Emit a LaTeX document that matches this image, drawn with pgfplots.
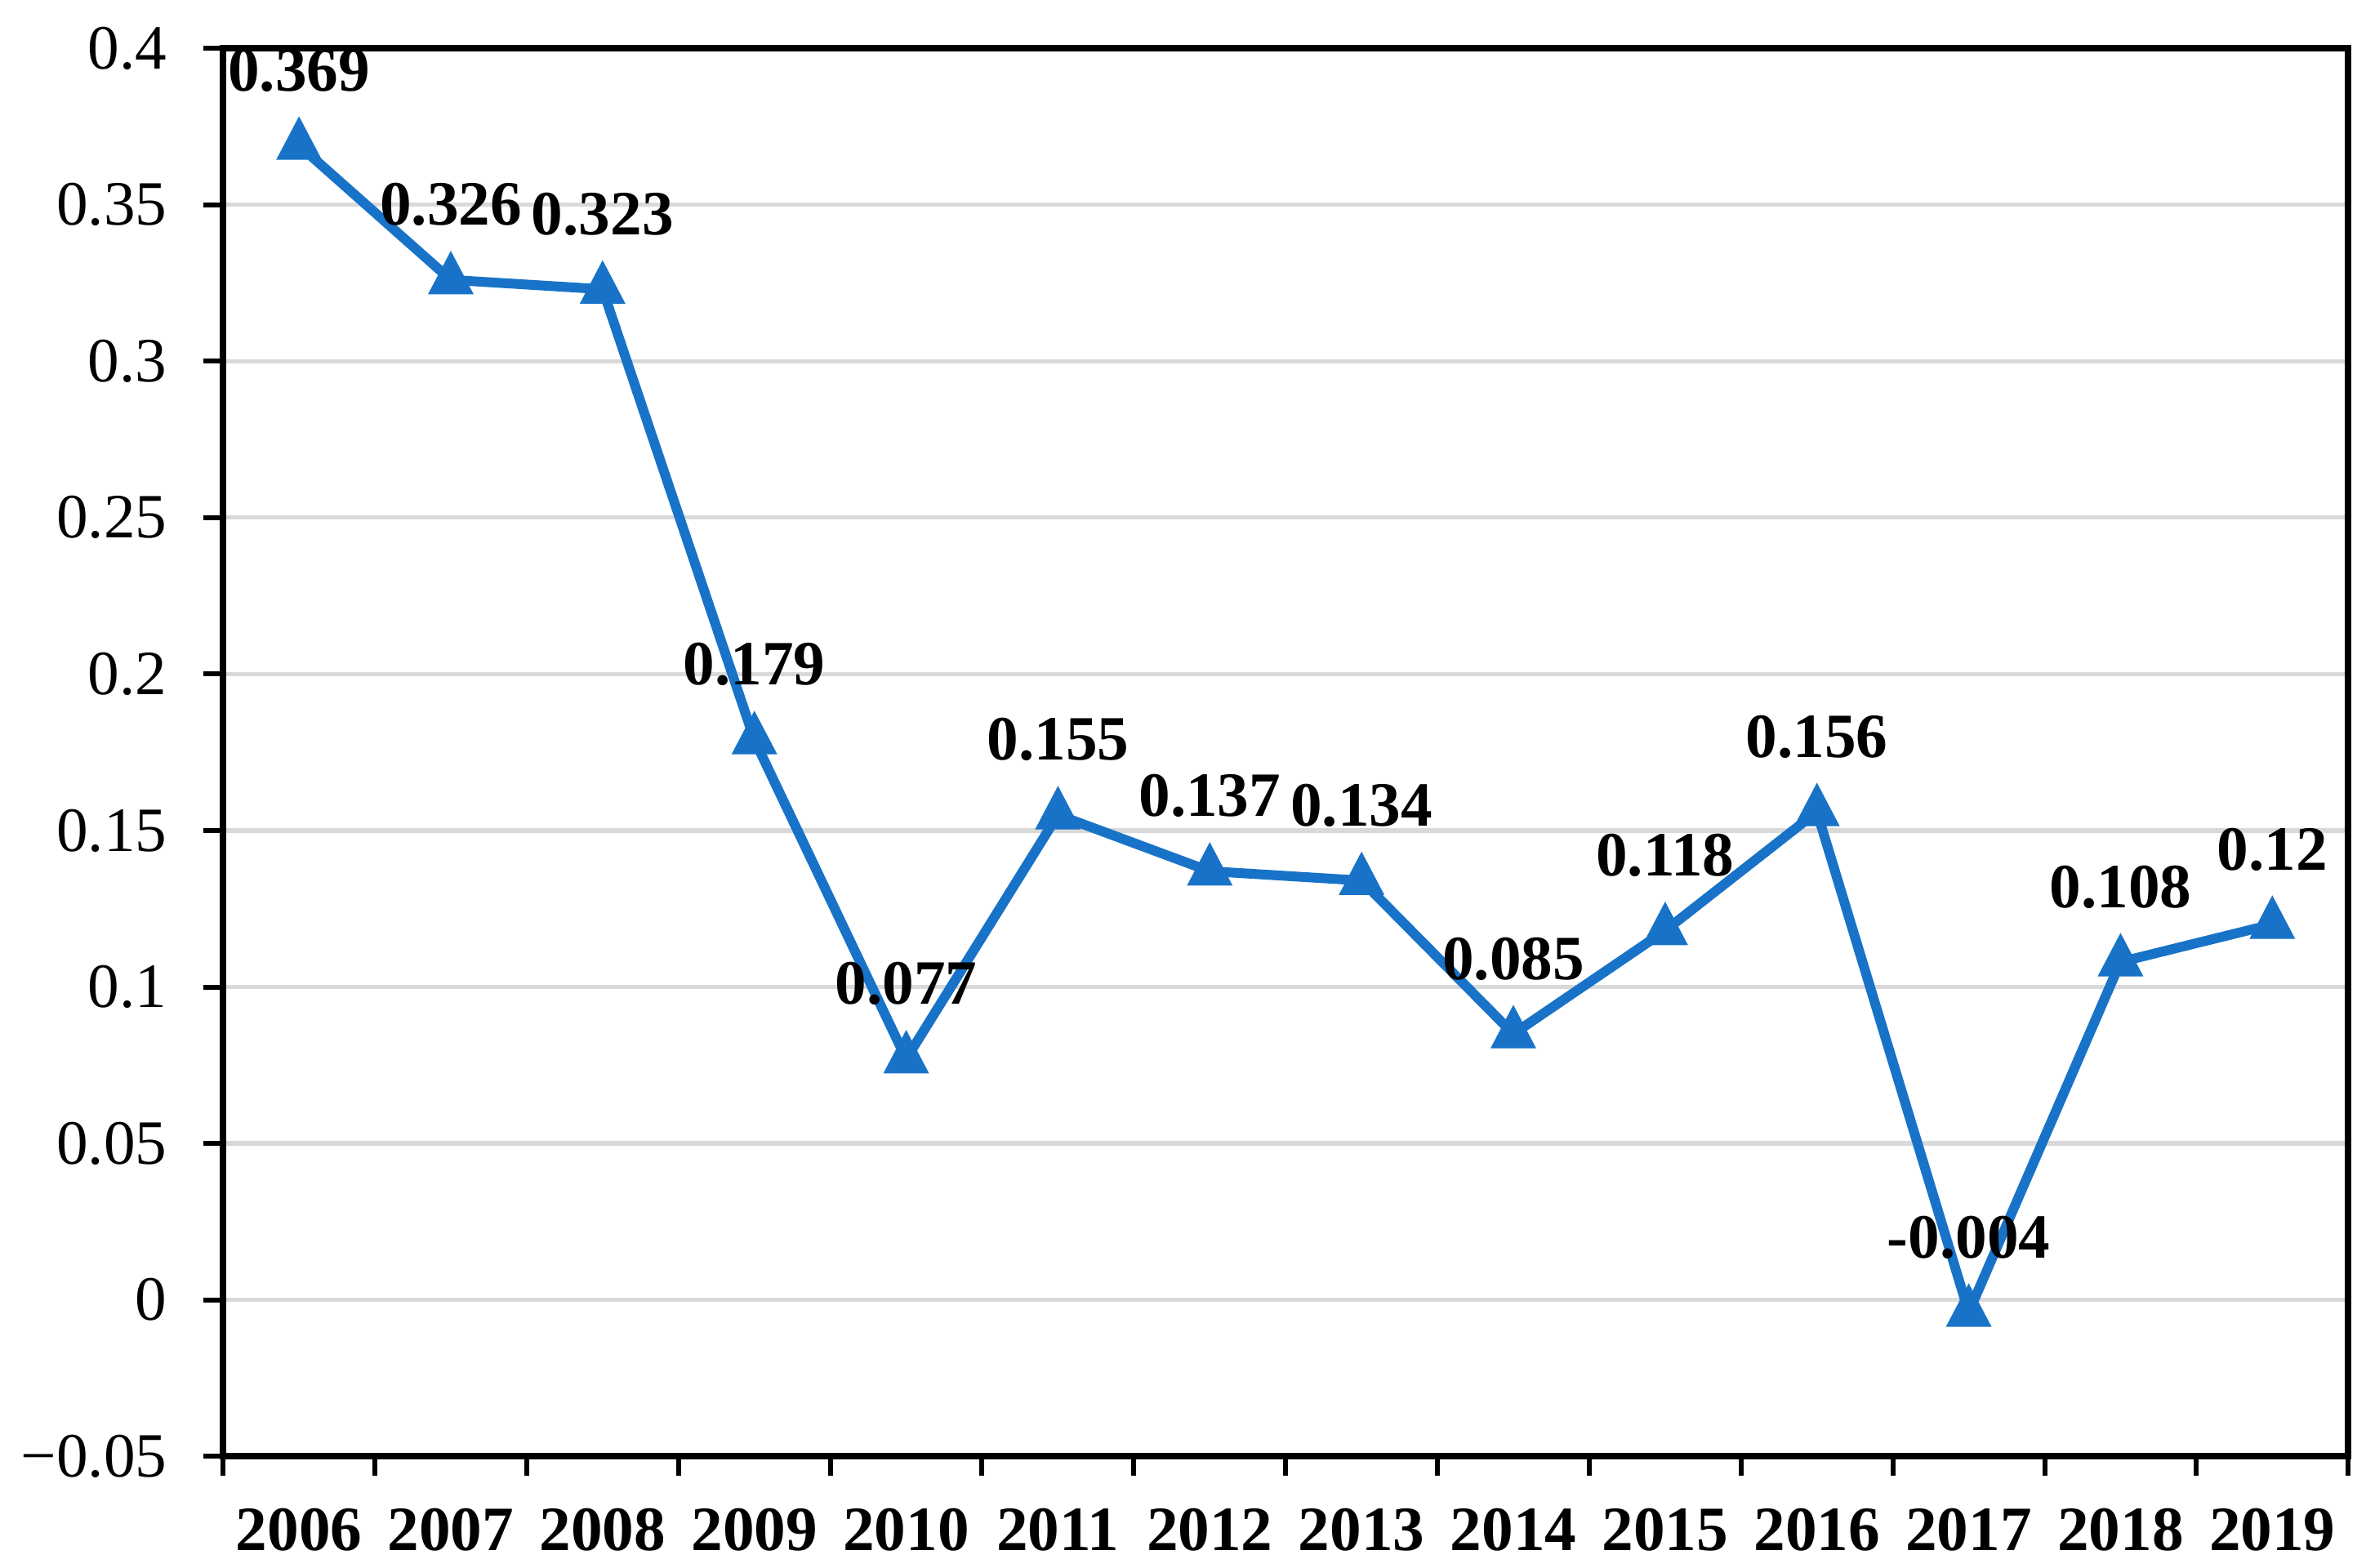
\documentclass[border=0pt]{standalone}
\usepackage{fontspec}
\setmainfont{Liberation Serif}
\usepackage{pgfplots}
\pgfplotsset{compat=1.18}
\definecolor{lineblue}{RGB}{24,115,200}
\definecolor{gridgray}{RGB}{217,217,217}

\pgfplotstableread{
x y lab
0 0.369 0.369
1 0.326 0.326
2 0.323 0.323
3 0.179 0.179
4 0.077 0.077
5 0.155 0.155
6 0.137 0.137
7 0.134 0.134
8 0.085 0.085
9 0.118 0.118
10 0.156 0.156
11 -0.004 -0.004
12 0.108 0.108
13 0.12 0.12
}\ratio

\begin{document}
\begin{tikzpicture}
\useasboundingbox (0,0) rectangle (724.25bp,480bp);
\begin{axis}[
    at={(68.3bp,34.2bp)}, anchor=south west,
    scale only axis, width=650.5bp, height=431bp,
    xmin=-0.5, xmax=13.5,
    ymin=-0.05, ymax=0.4,
    xtick={0,...,13},
    xticklabels={2006,2007,2008,2009,2010,2011,2012,2013,2014,2015,2016,2017,2018,2019},
    minor xtick={-0.5,0.5,...,13.5},
    major x tick style={draw=none},
    ytick={-0.05,0,0.05,0.1,0.15,0.2,0.25,0.3,0.35,0.4},
    yticklabels={−0.05,0,0.05,0.1,0.15,0.2,0.25,0.3,0.35,0.4},
    tick align=outside,
    xtick pos=bottom, ytick pos=left,
    major tick length=6bp, minor tick length=6bp,
    tick style={black, line width=1.5bp},
    axis line style={black, line width=2bp},
    ymajorgrids=true,
    grid style={gridgray, line width=1.3bp},
    tick label style={font=\fontsize{19.3bp}{23bp}\selectfont},
    xticklabel style={font=\fontsize{19.3bp}{23bp}\selectfont\bfseries, anchor=center, yshift=-16.6bp},
    yticklabel style={anchor=east, inner sep=0pt, xshift=-11bp},
    nodes near coords,
    point meta=explicit symbolic,
    every node near coord/.append style={anchor=center, inner sep=0pt, yshift=23bp,
        font=\fontsize{19.3bp}{23bp}\selectfont\bfseries, text=black},
]
\addplot[lineblue, line width=3bp, mark=triangle*, mark size=7.6bp,
    mark options={fill=lineblue, line width=0.5bp, yscale=1.1}]
    table[x=x, y=y, meta=lab] {\ratio};
\end{axis}
\end{tikzpicture}
\end{document}
